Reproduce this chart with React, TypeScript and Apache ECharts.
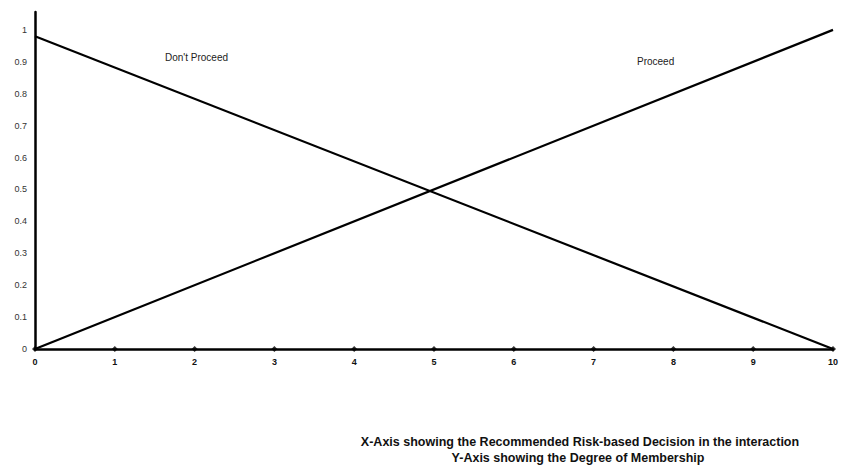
import React, { useEffect, useRef } from "react";
import * as echarts from "echarts";

const xValues = [0, 10];
const dontProceed = [0.98, 0];
const proceed = [0, 1];
const xTicks = [0, 1, 2, 3, 4, 5, 6, 7, 8, 9, 10];
const yTicks = [0, 0.1, 0.2, 0.3, 0.4, 0.5, 0.6, 0.7, 0.8, 0.9, 1];
const captionLines = [
  "X-Axis showing the Recommended Risk-based Decision in the interaction",
  "Y-Axis showing the Degree of Membership",
];
const seriesNames = ["Don't Proceed", "Proceed"];

const FONT = "Liberation Sans, Arial, sans-serif";

export default function App() {
  const ref = useRef<HTMLDivElement>(null);
  useEffect(() => {
    if (!ref.current) return;
    const chart = echarts.init(ref.current, null, { renderer: "svg" });
    chart.setOption({
      animation: false,
      backgroundColor: "#ffffff",
      textStyle: { fontFamily: FONT },
      grid: { left: 35, right: 10, top: 12, bottom: 121, containLabel: false },
      xAxis: {
        type: "value",
        min: 0,
        max: 10,
        interval: 1,
        axisLine: { show: true, lineStyle: { color: "#000", width: 2.5 } },
        axisTick: { show: false },
        splitLine: { show: false },
        axisLabel: {
          color: "#111",
          fontSize: 9,
          fontWeight: "bold",
          margin: 8,
          formatter: (v: number) => String(v),
        },
      },
      yAxis: {
        type: "value",
        min: 0,
        max: 1.056,
        interval: 0.1,
        axisLine: { show: true, lineStyle: { color: "#000", width: 2.5 } },
        axisTick: { show: false },
        splitLine: { show: false },
        axisLabel: {
          color: "#333",
          fontSize: 9,
          margin: 8,
          formatter: (v: number) => {
            const r = Math.round(v * 10) / 10;
            if (Math.abs(v - r) > 1e-6 || !yTicks.some((t) => Math.abs(t - r) < 1e-6)) return "";
            if (r === 0) return "0";
            if (r === 1) return "1";
            return r.toFixed(1);
          },
        },
      },
      series: [
        {
          name: seriesNames[0],
          type: "line",
          data: xValues.map((x, i) => [x, dontProceed[i]]),
          symbol: "none",
          lineStyle: { color: "#000", width: 2.2 },
        },
        {
          name: seriesNames[1],
          type: "line",
          data: xValues.map((x, i) => [x, proceed[i]]),
          symbol: "none",
          lineStyle: { color: "#000", width: 2.2 },
        },
        {
          type: "scatter",
          data: xTicks.map((x) => [x, 0]),
          symbol: "diamond",
          symbolSize: [6, 6],
          itemStyle: { color: "#000" },
          z: 5,
        },
      ],
      graphic: [
        {
          type: "text",
          left: 165,
          top: 52,
          style: { text: seriesNames[0], fontSize: 10, fill: "#222", fontFamily: FONT },
        },
        {
          type: "text",
          left: 637,
          top: 56,
          style: { text: seriesNames[1], fontSize: 10, fill: "#222", fontFamily: FONT },
        },
        {
          type: "text",
          x: 580,
          y: 442,
          style: {
            text: captionLines[0],
            fontSize: 12.5,
            fontWeight: "bold",
            fill: "#111",
            align: "center",
            verticalAlign: "middle",
            fontFamily: FONT,
          },
        },
        {
          type: "text",
          x: 578,
          y: 458,
          style: {
            text: captionLines[1],
            fontSize: 12.5,
            fontWeight: "bold",
            fill: "#111",
            align: "center",
            verticalAlign: "middle",
            fontFamily: FONT,
          },
        },
      ],
    });
    return () => chart.dispose();
  }, []);
  return (
    <div
      ref={ref}
      style={{ position: "fixed", left: 0, top: 0, width: 843, height: 470 }}
    />
  );
}
